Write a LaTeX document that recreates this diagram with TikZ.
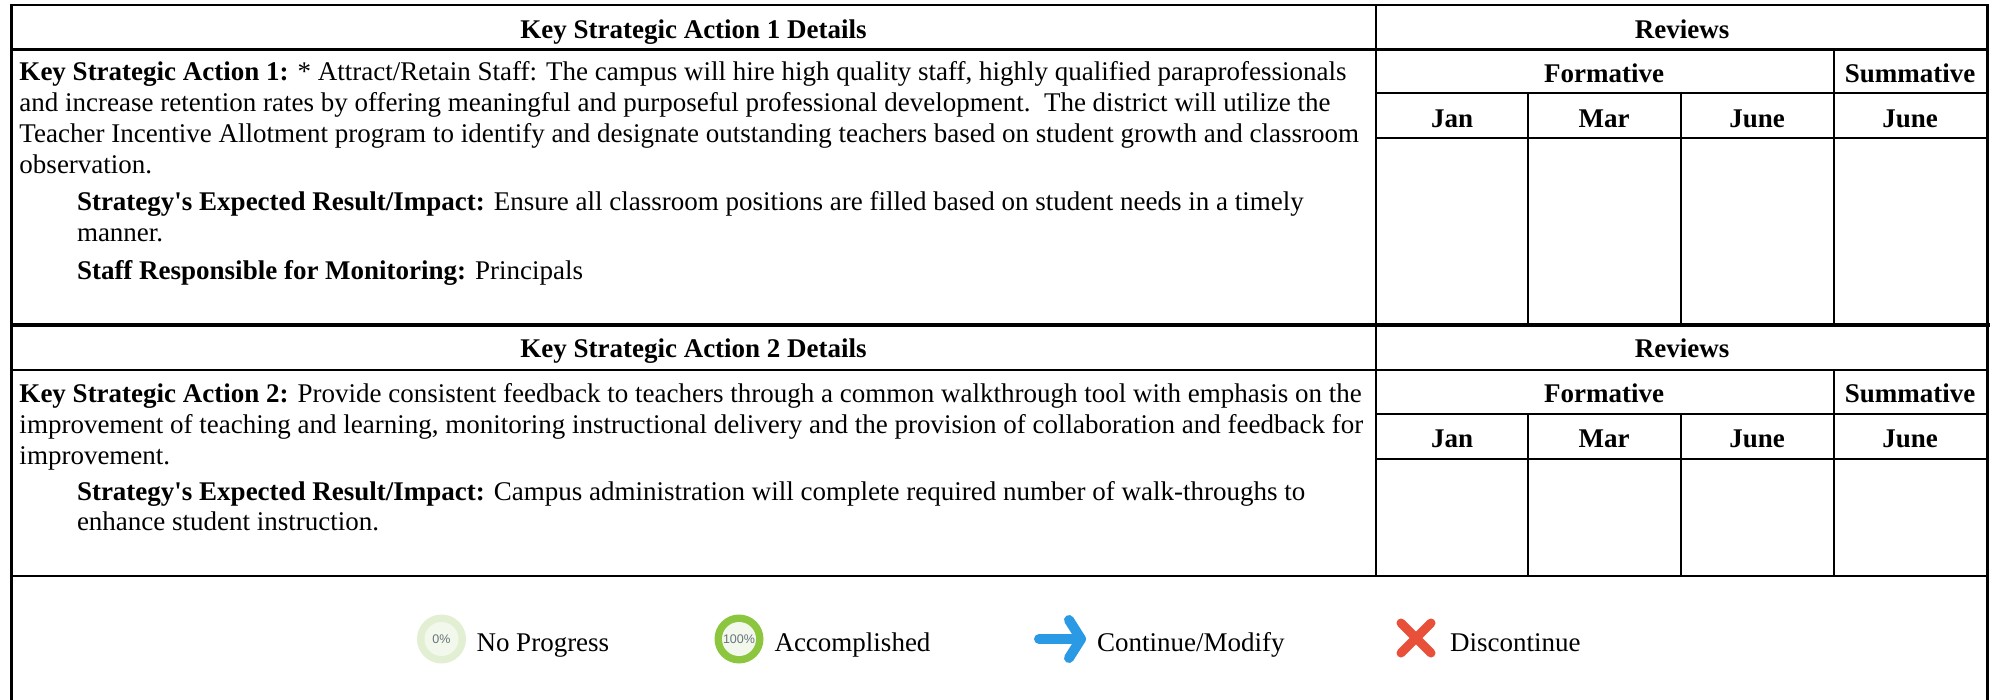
\documentclass[tikz,border=0pt]{standalone}
\usepackage{fontspec}
\setmainfont{Liberation Serif}
\newfontfamily\iconfont{Liberation Sans}
\tikzset{
  x=1pt,y=-1pt,
  grid/.style={draw=black,line width=2.4pt,line cap=rect},
  body/.style={anchor=base west,inner sep=0pt,outer sep=0pt,font=\fontsize{27}{31}\selectfont},
  head/.style={anchor=base,inner sep=0pt,outer sep=0pt,font=\fontsize{27}{31}\selectfont\bfseries},
  outerring/.style={circle,inner sep=0pt,minimum size=49pt},
  innerdisc/.style={circle,inner sep=0pt,minimum size=34pt,fill=innergreen,text=pctgrey,text height=8.5pt,text depth=0pt,font=\iconfont\fontsize{12.5}{13}\selectfont},
  stroke/.style={line width=10pt,line cap=round,line join=round},
}
\definecolor{innergreen}{HTML}{F2F8EC}
\definecolor{palegreen}{HTML}{E2EFD3}
\definecolor{fullgreen}{HTML}{8CC63F}
\definecolor{pctgrey}{HTML}{68747C}
\definecolor{arrowblue}{HTML}{2B9AE4}
\definecolor{crossred}{HTML}{E8503A}
\begin{document}
\begin{tikzpicture}
\useasboundingbox (0,0) rectangle (1997,699);
% grid
\draw[grid] (11.5,5) -- (1987.5,5);
\draw[grid] (11.5,5) -- (11.5,699);
\draw[grid] (1987.5,5) -- (1987.5,699);
\draw[grid] (1376,5) -- (1376,576);
\draw[grid] (11.5,49.5) -- (1987.5,49.5);
\draw[grid] (1376,93) -- (1987.5,93);
\draw[grid] (1376,138) -- (1987.5,138);
\draw[grid] (1528,93) -- (1528,324);
\draw[grid] (1681,93) -- (1681,324);
\draw[grid] (1834,49.5) -- (1834,324);
\draw[grid,line width=4pt] (11.5,324.5) -- (1987.5,324.5);
\draw[grid] (11.5,370) -- (1987.5,370);
\draw[grid] (1376,414) -- (1987.5,414);
\draw[grid] (1376,459) -- (1987.5,459);
\draw[grid] (1528,414) -- (1528,576);
\draw[grid] (1681,414) -- (1681,576);
\draw[grid] (1834,370) -- (1834,576);
\draw[grid] (11.5,576) -- (1987.5,576);
% section 1 headers
\node[head] (h1) at (693.5,38) {Key Strategic Action 1 Details};
\node[head] (r1) at (1682,38) {Reviews};
\node[head] (f1) at (1604,82) {Formative};
\node[head] (s1) at (1910,82) {Summative};
\node[head] (j1) at (1452,127) {Jan};
\node[head] (m1) at (1604,127) {Mar};
\node[head] (u1) at (1757,127) {June};
\node[head] (v1) at (1910,127) {June};
% section 1 text
\node[body] (a1) at (19.5,80) {\textbf{Key Strategic Action 1:} * Attract/Retain Staff: The campus will hire high quality staff, highly qualified paraprofessionals};
\node[body] (a2) at (19.5,111) {and increase retention rates by offering meaningful and purposeful professional development.\ \ The district will utilize the};
\node[body] (a3) at (19.5,142) {Teacher Incentive Allotment program to identify and designate outstanding teachers based on student growth and classroom};
\node[body] (a4) at (19.5,173) {observation.};
\node[body] (a5) at (77,210) {\textbf{Strategy\textquotesingle s Expected Result/Impact:} Ensure all classroom positions are filled based on student needs in a timely};
\node[body] (a6) at (77,241) {manner.};
\node[body] (a7) at (77,279) {\textbf{Staff Responsible for Monitoring:} Principals};
% section 2 headers
\node[head] (h2) at (693.5,357) {Key Strategic Action 2 Details};
\node[head] (r2) at (1682,357) {Reviews};
\node[head] (f2) at (1604,402) {Formative};
\node[head] (s2) at (1910,402) {Summative};
\node[head] (j2) at (1452,447) {Jan};
\node[head] (m2) at (1604,447) {Mar};
\node[head] (u2) at (1757,447) {June};
\node[head] (v2) at (1910,447) {June};
% section 2 text
\node[body] (b1) at (19.5,402) {\textbf{Key Strategic Action 2:} Provide consistent feedback to teachers through a common walkthrough tool with emphasis on the};
\node[body] (b2) at (19.5,433) {improvement of teaching and learning, monitoring instructional delivery and the provision of collaboration and feedback for};
\node[body] (b3) at (19.5,464) {improvement.};
\node[body] (b4) at (77,500) {\textbf{Strategy\textquotesingle s Expected Result/Impact:} Campus administration will complete required number of walk-throughs to};
\node[body] (b5) at (77,530) {enhance student instruction.};
% legend
\node[outerring,fill=palegreen] (ring0) at (441.5,639) {};
\node[innerdisc] (disc0) at (ring0.center) {0\%};
\node[body] (l0) at (476.5,651) {No Progress};
\node[outerring,fill=fullgreen] (ring1) at (739,639) {};
\node[innerdisc] (disc1) at (ring1.center) {100\%};
\node[body] (l1) at (774.5,651) {Accomplished};
\draw[stroke,draw=arrowblue] (1039,639) -- (1081,639);
\draw[stroke,draw=arrowblue] (1069,620) -- (1081,639) -- (1069,658);
\node[body] (l2) at (1097,651) {Continue/Modify};
\draw[stroke,line width=9pt,draw=crossred] (1401,623) -- (1431,653);
\draw[stroke,line width=9pt,draw=crossred] (1431,623) -- (1401,653);
\node[body] (l3) at (1450,651) {Discontinue};
\end{tikzpicture}
\end{document}
